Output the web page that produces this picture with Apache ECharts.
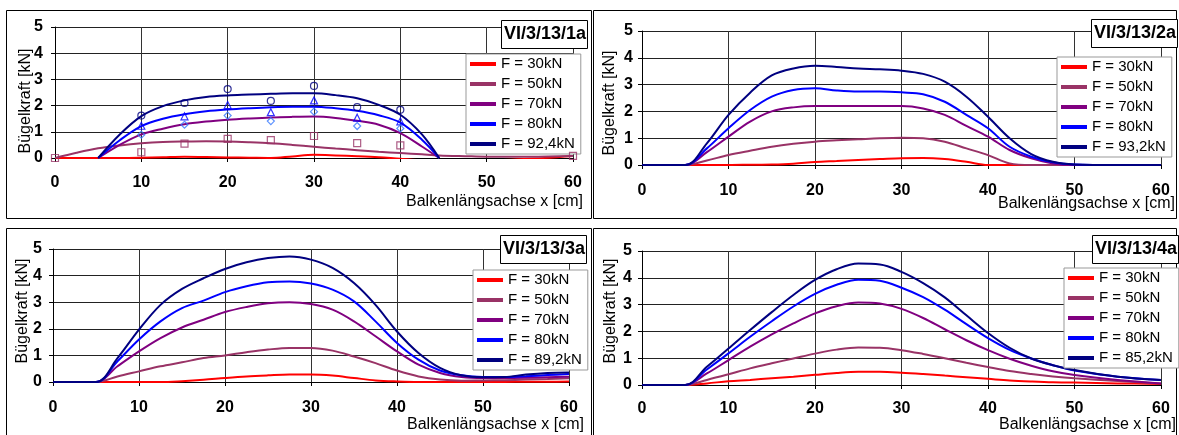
<!DOCTYPE html>
<html>
<head>
<meta charset="utf-8">
<script src="https://cdn.jsdelivr.net/npm/echarts@6/dist/echarts.min.js"></script>
<style>
html,body{margin:0;padding:0;background:#fff;}
#c{width:1179px;height:435px;}
</style>
</head>
<body>
<div id="c"></div>
<script>
// ---------- DATA ----------
const seriesNames1 = ['F = 30kN','F = 50kN','F = 70kN','F = 80kN','F = 92,4kN'];
const seriesNames2 = ['F = 30kN','F = 50kN','F = 70kN','F = 80kN','F = 93,2kN'];
const seriesNames3 = ['F = 30kN','F = 50kN','F = 70kN','F = 80kN','F = 89,2kN'];
const seriesNames4 = ['F = 30kN','F = 50kN','F = 70kN','F = 80kN','F = 85,2kN'];
const panelTitles = ['VI/3/13/1a','VI/3/13/2a','VI/3/13/3a','VI/3/13/4a'];
const xTitle = 'Balkenlängsachse x [cm]';
const yTitle = 'Bügelkraft [kN]';

// Panel 1 curves
const x1 = [0,2.5,5,7.5,10,12.5,15,17.5,20,22.5,25,27.5,30,32.5,35,37.5,40,42.5,44.5,47.5,50,55,60];
const p1_30 = [0,0,0,0,0.01,0.03,0.05,0.04,0.02,0.01,0,0.06,0.12,0.1,0.07,0.03,-0.03,-0.08,-0.1,-0.12,-0.1,-0.03,0.08];
const p1_50 = [0,0.2,0.37,0.48,0.56,0.61,0.63,0.64,0.63,0.6,0.56,0.5,0.43,0.36,0.3,0.24,0.19,0.14,0.1,0.07,0.05,0.05,0.08];
const p1_70 = [null,null,0,0.5,0.9,1.12,1.29,1.39,1.46,1.51,1.55,1.57,1.58,1.53,1.42,1.27,0.95,0.44,0,null,null,null,null];
const p1_80 = [null,null,0,0.68,1.22,1.5,1.67,1.78,1.85,1.9,1.94,1.96,1.96,1.9,1.8,1.63,1.35,0.7,0,null,null,null,null];
const p1_92 = [null,null,0,0.9,1.6,1.98,2.2,2.33,2.39,2.42,2.45,2.47,2.47,2.4,2.28,2.03,1.65,0.9,0,null,null,null,null];
// Panel 1 measured points
const m1x = [10,15,20,25,30,35,40];
const m1_92 = [1.62,2.1,2.63,2.18,2.75,1.94,1.84];
const m1_80 = [1.23,1.59,2.02,1.75,2.2,1.54,1.4];
const m1_70 = [0.89,1.27,1.62,1.41,1.77,1.22,1.13];
const m1sx = [0,10,15,20,25,30,35,40,60];
const m1_50 = [0,0.22,0.55,0.73,0.68,0.84,0.57,0.48,0.08];

// Panel 2
const x2 = [0,5,7.5,10,12.5,15,17.5,20,22.5,25,27.5,30,32.5,35,37.5,40,42.5,45,47.5,50,55,60];
const p2_30 = [0,0,0,0,0.01,0.02,0.05,0.11,0.15,0.19,0.22,0.25,0.26,0.22,0.12,0,0,0,0,0,0,0];
const p2_50 = [0,0,0.17,0.37,0.53,0.68,0.79,0.87,0.92,0.96,1.0,1.02,1.0,0.87,0.62,0.37,0.06,0,0,0,0,0];
const p2_70 = [0,0,0.48,1.06,1.62,2.0,2.15,2.2,2.2,2.2,2.2,2.2,2.11,1.87,1.46,1.06,0.56,0.25,0.06,0,0,0];
const p2_80 = [0,0,0.62,1.37,2.05,2.55,2.8,2.86,2.78,2.74,2.74,2.71,2.64,2.36,1.87,1.37,0.68,0.31,0.1,0.02,0,0];
const p2_93 = [0,0,0.81,1.87,2.7,3.34,3.6,3.7,3.66,3.6,3.57,3.52,3.4,3.11,2.55,1.8,1.0,0.41,0.12,0.02,0,0];

// Panel 3
const x3 = [0,5,7.5,10,12.5,15,17.5,20,22.5,25,27.5,30,32.5,35,37.5,40,42.5,45,47.5,50,52.5,55,57.5,60];
const p3_30 = [0,0,0,0,0,0.03,0.08,0.15,0.21,0.25,0.28,0.28,0.24,0.15,0.06,0.02,0,0,0,0,0,0.01,0.01,0.02];
const p3_50 = [0,0,0.21,0.4,0.59,0.74,0.9,1.0,1.12,1.22,1.28,1.28,1.18,0.96,0.71,0.43,0.21,0.09,0.05,0.06,0.07,0.09,0.11,0.14];
const p3_70 = [0,0,0.59,1.15,1.65,2.05,2.34,2.63,2.82,2.96,3.0,2.93,2.72,2.28,1.72,1.15,0.65,0.34,0.19,0.15,0.15,0.16,0.18,0.2];
const p3_80 = [0,0,0.78,1.6,2.28,2.78,3.06,3.38,3.6,3.75,3.78,3.7,3.47,3.03,2.28,1.47,0.84,0.43,0.25,0.19,0.19,0.22,0.26,0.3];
const p3_89 = [0,0,0.9,1.97,2.9,3.5,3.9,4.25,4.5,4.66,4.72,4.6,4.29,3.72,2.9,1.9,1.09,0.53,0.25,0.18,0.19,0.28,0.34,0.36];

// Panel 4
const x4 = [0,5,7.5,10,12.5,15,17.5,20,22.5,25,27.5,30,32.5,35,37.5,40,42.5,45,47.5,50,55,60];
const p4_30 = [0,0,0.06,0.14,0.19,0.25,0.31,0.38,0.45,0.49,0.49,0.46,0.41,0.35,0.29,0.23,0.17,0.13,0.1,0.09,0.06,0.04];
const p4_50 = [0,0,0.19,0.4,0.62,0.81,0.99,1.17,1.32,1.4,1.39,1.3,1.16,1.0,0.83,0.67,0.52,0.41,0.32,0.25,0.15,0.06];
const p4_70 = [0,0,0.43,0.93,1.43,1.89,2.3,2.67,2.94,3.08,3.04,2.84,2.5,2.08,1.67,1.3,0.98,0.72,0.51,0.37,0.19,0.06];
const p4_80 = [0,0,0.58,1.18,1.8,2.38,2.93,3.4,3.74,3.93,3.89,3.63,3.28,2.81,2.27,1.75,1.31,0.99,0.74,0.54,0.31,0.19];
const p4_85 = [0,0,0.68,1.36,2.05,2.72,3.36,3.92,4.32,4.53,4.5,4.22,3.8,3.27,2.6,1.94,1.39,0.99,0.74,0.56,0.31,0.19];

// ---------- CHART ----------
const colors = ['#ff0000','#993366','#800080','#0000ff','#000080'];
const FONT = '"Liberation Sans", Arial, sans-serif';

const grids = [
  {left:55, top:27, width:518, height:131},
  {left:642, top:31, width:519, height:134},
  {left:53, top:249, width:516, height:133},
  {left:642, top:251, width:519, height:134}
];
const xLabelMargins = [17, 18, 18, 16];
const yLabelMargins = [12, 9, 11, 10];

function pairs(xs, ys){
  const out = [];
  for (let i=0;i<xs.length;i++){ if (ys[i] !== null && ys[i] !== undefined) out.push([xs[i], ys[i]]); }
  return out;
}

const xAxes = grids.map((g,i)=>({
  type:'value', gridIndex:i, min:0, max:60, interval:10,
  axisLine:{show:true, onZero:false, lineStyle:{color:'#000', width:1}},
  axisTick:{show:true, length:4, lineStyle:{color:'#000'}},
  axisLabel:{color:'#000', fontSize:16, fontWeight:'bold', fontFamily:FONT, margin:xLabelMargins[i]},
  splitLine:{show:true, lineStyle:{color:'#333', width:1}}
}));
const yAxes = grids.map((g,i)=>({
  type:'value', gridIndex:i, min:0, max:5, interval:1,
  axisLine:{show:true, lineStyle:{color:'#000', width:1}},
  axisTick:{show:true, length:4, lineStyle:{color:'#000'}},
  axisLabel:{color:'#000', fontSize:16, fontWeight:'bold', fontFamily:FONT, margin:yLabelMargins[i]},
  splitLine:{show:true, lineStyle:{color:'#222', width:1}}
}));

const series = [];
function addLines(idx, xs, ysList, names){
  ysList.forEach((ys,k)=>{
    series.push({
      type:'line', name:names[k], xAxisIndex:idx, yAxisIndex:idx,
      data:pairs(xs, ys), smooth:0.35, symbol:'none', clip:true,
      lineStyle:{color:colors[k], width:2},
      itemStyle:{color:colors[k]},
      z:3
    });
  });
}
addLines(0, x1, [p1_30,p1_50,p1_70,p1_80,p1_92], seriesNames1);
addLines(1, x2, [p2_30,p2_50,p2_70,p2_80,p2_93], seriesNames2);
addLines(2, x3, [p3_30,p3_50,p3_70,p3_80,p3_89], seriesNames3);
addLines(3, x4, [p4_30,p4_50,p4_70,p4_80,p4_85], seriesNames4);

function addMarkers(xs, ys, symbol, color, size){
  series.push({
    type:'scatter', name:'m_'+symbol, xAxisIndex:0, yAxisIndex:0,
    data:pairs(xs, ys), symbol:symbol, symbolSize:size,
    itemStyle:{color:'rgba(0,0,0,0)', borderColor:color, borderWidth:1.2},
    z:4, silent:true
  });
}
addMarkers(m1x, m1_92, 'circle', '#000080', 7);
addMarkers(m1x, m1_80, 'triangle', '#0000ff', 7);
addMarkers(m1x, m1_70, 'diamond', '#3377ff', 7);
addMarkers(m1sx, m1_50, 'rect', '#993366', 7);

const legendPos = [
  {left:466, top:54}, {left:1057, top:57}, {left:473, top:270}, {left:1064, top:268}
];
const legendNames = [seriesNames1, seriesNames2, seriesNames3, seriesNames4];
const legends = legendPos.map((p,i)=>({
  orient:'vertical', left:p.left, top:p.top,
  data:legendNames[i], selectedMode:false,
  icon:'rect', itemWidth:26, itemHeight:4, itemGap:4,
  padding:[2,6,2,4],
  backgroundColor:'#fff', borderColor:'#999', borderWidth:1,
  textStyle:{fontSize:15, fontFamily:FONT, color:'#000', lineHeight:16}
}));

const titlePos = [
  {left:501, top:20}, {left:1091, top:19}, {left:500, top:235}, {left:1092, top:235}
];
const titles = titlePos.map((p,i)=>({
  text:panelTitles[i], left:p.left, top:p.top,
  padding:[4,2,4,3],
  backgroundColor:'#fff', borderColor:'#000', borderWidth:1,
  textStyle:{fontSize:18, fontWeight:'bold', fontFamily:FONT, color:'#000', lineHeight:21}
}));

const frames = [
  {x:6.5, y:10.5, width:585, height:208},
  {x:593.5, y:10.5, width:583, height:208},
  {x:6.5, y:228.5, width:585, height:212},
  {x:593.5, y:228.5, width:583, height:212}
];
const xTitlePos = [{x:583, y:202}, {x:1175, y:203.5}, {x:584, y:425}, {x:1176, y:425}];
const yTitlePos = [{x:26, y:101}, {x:610, y:103}, {x:23, y:311}, {x:611, y:311}];

const graphic = [];
frames.forEach(f=>graphic.push({type:'rect', shape:f, style:{fill:'none', stroke:'#000', lineWidth:1}, z:-1, silent:true}));
xTitlePos.forEach(p=>graphic.push({type:'text', x:p.x, y:p.y, z:10, silent:true,
  style:{text:xTitle, font:'16px '+FONT, fill:'#000', textAlign:'right', textVerticalAlign:'middle', align:'right', verticalAlign:'middle'}}));
yTitlePos.forEach(p=>graphic.push({type:'text', x:p.x, y:p.y, rotation:Math.PI/2, z:10, silent:true,
  style:{text:yTitle, font:'16px '+FONT, fill:'#000', textAlign:'center', textVerticalAlign:'middle', align:'center', verticalAlign:'middle'}}));

const chart = echarts.init(document.getElementById('c'), null, {renderer:'canvas'});
chart.setOption({
  animation:false,
  backgroundColor:'#fff',
  title:titles,
  legend:legends,
  grid:grids,
  xAxis:xAxes,
  yAxis:yAxes,
  series:series,
  graphic:graphic
});
</script>
</body>
</html>
